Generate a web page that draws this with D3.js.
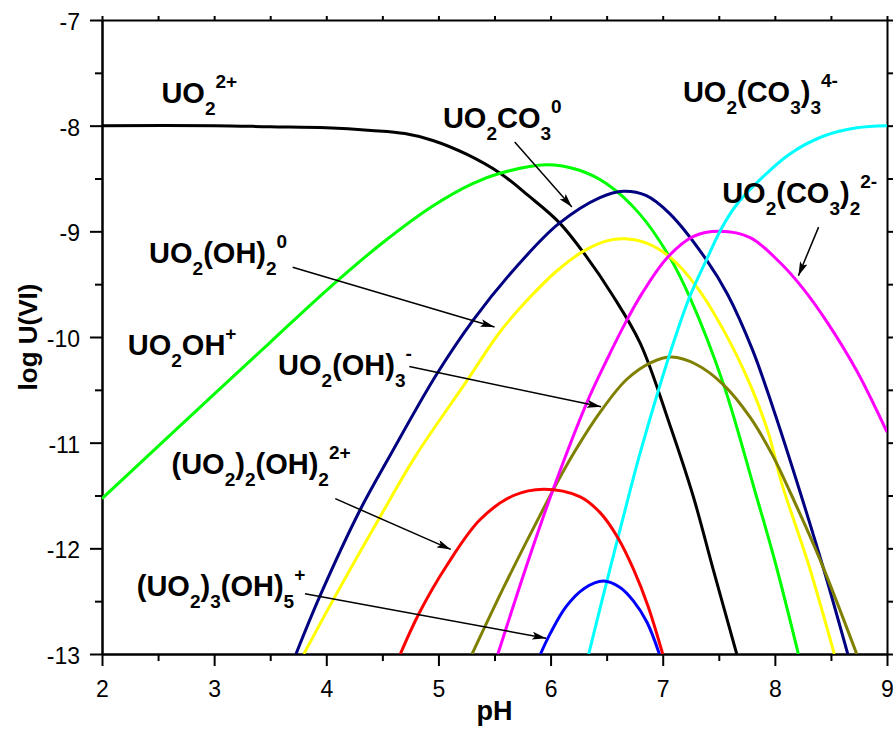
<!DOCTYPE html>
<html>
<head>
<meta charset="utf-8">
<script src="https://cdn.jsdelivr.net/npm/d3@7"></script>
<style>
  body { margin: 0; background: #fff; }
  svg { display: block; }
  text { font-family: "Liberation Sans", Arial, sans-serif; fill: #000; }
</style>
</head>
<body>
<svg id="chart" width="893" height="732"></svg>
<script>
// Axis ticks
const pHTicks = [2, 3, 4, 5, 6, 7, 8, 9];
const logTicks = [-7, -8, -9, -10, -11, -12, -13];

// Species concentrations, [pH, log U(VI)]
const uo2 = [[2, -8.0], [3, -8.0], [3.5, -8.01], [4, -8.02], [4.4, -8.045], [4.7, -8.075], [4.95, -8.14],
  [5.25, -8.27], [5.55, -8.45], [5.8, -8.66], [6.08, -8.92], [6.32, -9.24], [6.55, -9.6],
  [6.8, -10.06], [7.06, -10.82], [7.27, -11.5], [7.45, -12.2], [7.66, -13]];
const uo2oh = [[2, -11.53], [3, -10.54], [3.5, -10.05], [4, -9.56], [4.5, -9.11], [4.95, -8.76],
  [5.3, -8.55], [5.55, -8.45], [5.96, -8.37], [6.25, -8.42], [6.5, -8.55], [6.79, -8.83],
  [7.06, -9.24], [7.24, -9.62], [7.54, -10.44], [7.82, -11.45], [8.0, -12.12], [8.21, -13]];
const uo2co3 = [[3.73, -13], [3.94, -12.46], [4.3, -11.64], [4.57, -11.12], [4.98, -10.36],
  [5.31, -9.84], [5.7, -9.33], [6.07, -8.93], [6.44, -8.68], [6.65, -8.62], [6.85, -8.66],
  [7.06, -8.83], [7.39, -9.27], [7.58, -9.6], [7.8, -10.12], [7.98, -10.66], [8.22, -11.45],
  [8.45, -12.25], [8.65, -13]];
const uo2oh2 = [[3.8, -13], [4.06, -12.49], [4.48, -11.7], [4.8, -11.12], [5.25, -10.42],
  [5.55, -9.95], [5.82, -9.62], [6.05, -9.38], [6.29, -9.19], [6.5, -9.09], [6.66, -9.07],
  [6.85, -9.11], [7.06, -9.24], [7.3, -9.52], [7.54, -9.93], [7.78, -10.45], [7.94, -10.9],
  [8.06, -11.38], [8.3, -12.15], [8.53, -13]];
const uo2oh3 = [[5.3, -13], [5.6, -12.33], [5.9, -11.7], [6.14, -11.22], [6.45, -10.7],
  [6.68, -10.4], [6.9, -10.24], [7.08, -10.19], [7.3, -10.26], [7.54, -10.45], [7.78, -10.76],
  [7.98, -11.12], [8.15, -11.5], [8.4, -12.1], [8.73, -13]];
const uo2co32 = [[5.53, -13], [5.8, -12.12], [6.02, -11.45], [6.32, -10.63], [6.5, -10.22],
  [6.68, -9.84], [6.82, -9.58], [7.04, -9.25], [7.27, -9.05], [7.51, -9.0], [7.78, -9.06],
  [8.05, -9.3], [8.25, -9.54], [8.46, -9.85], [8.73, -10.32], [9.0, -10.9]];
const uo2co33 = [[6.34, -13], [6.5, -12.32], [6.71, -11.45], [6.79, -11.13], [7.06, -10.17],
  [7.24, -9.62], [7.39, -9.27], [7.52, -8.98], [7.65, -8.76], [7.83, -8.55], [8.13, -8.27],
  [8.43, -8.1], [8.73, -8.02], [9.0, -8.0]];
const dimer = [[4.66, -13], [4.83, -12.61], [5.07, -12.17], [5.37, -11.73], [5.67, -11.5],
  [5.94, -11.44], [6.26, -11.51], [6.44, -11.66], [6.6, -11.9], [6.74, -12.2],
  [6.87, -12.55], [7.0, -13]];
const trimer = [[5.91, -13], [6.0, -12.8], [6.14, -12.55], [6.3, -12.38], [6.47, -12.31],
  [6.62, -12.37], [6.74, -12.5], [6.86, -12.7], [6.97, -13]];

const series = [
  { values: uo2, color: "#000000" },
  { values: uo2oh, color: "#00ff00" },
  { values: uo2co3, color: "#000080" },
  { values: uo2oh2, color: "#ffff00" },
  { values: uo2oh3, color: "#808000" },
  { values: uo2co32, color: "#ff00ff" },
  { values: uo2co33, color: "#00ffff" },
  { values: dimer, color: "#ff0000" },
  { values: trimer, color: "#0000ff" }
];

// Species names: plain / subscript / superscript runs, anchored at [pH, log U]
const labels = [
  { at: [2.53, -7.79], parts: [["UO"], ["2", "sub"], ["2+", "sup"]] },
  { at: [5.04, -8.02], parts: [["UO"], ["2", "sub"], ["CO"], ["3", "sub"], ["0", "sup"]] },
  { at: [2.42, -9.30], parts: [["UO"], ["2", "sub"], ["(OH)"], ["2", "sub"], ["0", "sup"]] },
  { at: [2.23, -10.17], parts: [["UO"], ["2", "sub"], ["OH"], ["+", "sup"]] },
  { at: [3.57, -10.36], parts: [["UO"], ["2", "sub"], ["(OH)"], ["3", "sub"], ["-", "sup"]] },
  { at: [2.62, -11.30], parts: [["(UO"], ["2", "sub"], [")"], ["2", "sub"], ["(OH)"], ["2", "sub"], ["2+", "sup"]] },
  { at: [2.31, -12.45], parts: [["(UO"], ["2", "sub"], [")"], ["3", "sub"], ["(OH)"], ["5", "sub"], ["+", "sup"]] },
  { at: [7.18, -7.78], parts: [["UO"], ["2", "sub"], ["(CO"], ["3", "sub"], [")"], ["3", "sub"], ["4-", "sup"]] },
  { at: [7.53, -8.73], parts: [["UO"], ["2", "sub"], ["(CO"], ["3", "sub"], [")"], ["2", "sub"], ["2-", "sup"]] }
];

// Pointer arrows, [from, to] in [pH, log U]
const arrows = [
  [[5.68, -8.155], [6.19, -8.77]],
  [[3.70, -9.34], [5.50, -9.905]],
  [[4.74, -10.28], [6.45, -10.66]],
  [[4.08, -11.53], [5.11, -12.01]],
  [[3.81, -12.43], [5.96, -12.85]],
  [[8.39, -8.96], [8.21, -9.42]]
];

const svg = d3.select("#chart");
const W = 893, H = 732;
const margin = { left: 102, right: 6, top: 20, bottom: 78 };
svg.append("rect").attr("width", W).attr("height", H).attr("fill", "#fff");

const x = d3.scaleLinear().domain([2, 9]).range([margin.left, W - margin.right]);
const y = d3.scaleLinear().domain([-7, -13]).range([margin.top, H - margin.bottom]);

const halfPH = d3.range(2.5, 9, 1);
const halfLog = d3.range(-7.5, -13, -1);
const allPH = d3.range(2, 9.01, 0.5);
const allLog = d3.range(-7, -13.01, -0.5);

function styleAxis(g) {
  g.select(".domain").attr("stroke-width", 2);
  g.selectAll(".tick line").attr("stroke-width", 2);
}

// minor ticks
svg.append("g").attr("transform", `translate(0,${y(-13)})`)
  .call(d3.axisBottom(x).tickValues(halfPH).tickSize(7).tickSizeOuter(0).tickFormat(""))
  .call(styleAxis);
svg.append("g").attr("transform", `translate(${x(2)},0)`)
  .call(d3.axisLeft(y).tickValues(halfLog).tickSize(7).tickSizeOuter(0).tickFormat(""))
  .call(styleAxis);
// top and right frame
svg.append("g").attr("transform", `translate(0,${y(-7)})`)
  .call(d3.axisTop(x).tickValues(allPH).tickSize(4).tickSizeOuter(0).tickFormat(""))
  .call(styleAxis);
svg.append("g").attr("transform", `translate(${x(9)},0)`)
  .call(d3.axisRight(y).tickValues(allLog).tickSize(6).tickSizeOuter(0).tickFormat(""))
  .call(styleAxis);

// major ticks with labels
const xAxis = svg.append("g").attr("transform", `translate(0,${y(-13)})`)
  .call(d3.axisBottom(x).tickValues(pHTicks).tickSize(12).tickSizeOuter(0).tickFormat(d => String(d)))
  .call(styleAxis);
xAxis.selectAll(".tick text").attr("font-size", 23).attr("y", 0).attr("dy", 43)
  .style("font-family", '"Liberation Sans", Arial, sans-serif');

const yAxis = svg.append("g").attr("transform", `translate(${x(2)},0)`)
  .call(d3.axisLeft(y).tickValues(logTicks).tickSize(12).tickSizeOuter(0).tickFormat(d => String(d)))
  .call(styleAxis);
yAxis.selectAll(".tick text").attr("font-size", 23).attr("x", -22).attr("dy", 9.5)
  .style("font-family", '"Liberation Sans", Arial, sans-serif');

// axis titles
svg.append("text")
  .attr("x", (x(2) + x(9)) / 2).attr("y", 720)
  .attr("text-anchor", "middle").attr("font-size", 27).attr("font-weight", "bold")
  .text("pH");
svg.append("text")
  .attr("transform", `translate(37,${(y(-7) + y(-13)) / 2}) rotate(-90)`)
  .attr("text-anchor", "middle").attr("font-size", 26).attr("font-weight", "bold")
  .text("log U(VI)");

// curves
svg.append("clipPath").attr("id", "plot-clip").append("rect")
  .attr("x", x(2)).attr("y", y(-7)).attr("width", x(9) - x(2)).attr("height", y(-13) - y(-7));
const line = d3.line().x(d => x(d[0])).y(d => y(d[1])).curve(d3.curveCatmullRom.alpha(0.5));
svg.append("g").attr("clip-path", "url(#plot-clip)")
  .selectAll("path").data(series).join("path")
  .attr("d", d => line(d.values))
  .attr("fill", "none")
  .attr("stroke", d => d.color)
  .attr("stroke-width", 3)
  .attr("stroke-linejoin", "round");

// species labels
const SUB = 12, SUP = -15;
labels.forEach(l => {
  const t = svg.append("text")
    .attr("x", x(l.at[0])).attr("y", y(l.at[1]))
    .attr("font-weight", "bold").attr("font-size", 29);
  let shift = 0;
  l.parts.forEach(([s, kind]) => {
    const target = kind === "sub" ? SUB : kind === "sup" ? SUP : 0;
    t.append("tspan")
      .attr("dy", target - shift)
      .attr("font-size", kind ? 19 : 29)
      .text(s);
    shift = target;
  });
});

// arrows
svg.append("defs").append("marker")
  .attr("id", "head").attr("viewBox", "0 0 14 8")
  .attr("refX", 14).attr("refY", 4)
  .attr("markerWidth", 14).attr("markerHeight", 8)
  .attr("markerUnits", "userSpaceOnUse")
  .attr("orient", "auto")
  .append("path").attr("d", "M0,0 L14,4 L0,8 L3,4 Z").attr("fill", "#000");
svg.append("g").selectAll("line").data(arrows).join("line")
  .attr("x1", d => x(d[0][0])).attr("y1", d => y(d[0][1]))
  .attr("x2", d => x(d[1][0])).attr("y2", d => y(d[1][1]))
  .attr("stroke", "#000").attr("stroke-width", 1.5)
  .attr("marker-end", "url(#head)");
</script>
</body>
</html>
